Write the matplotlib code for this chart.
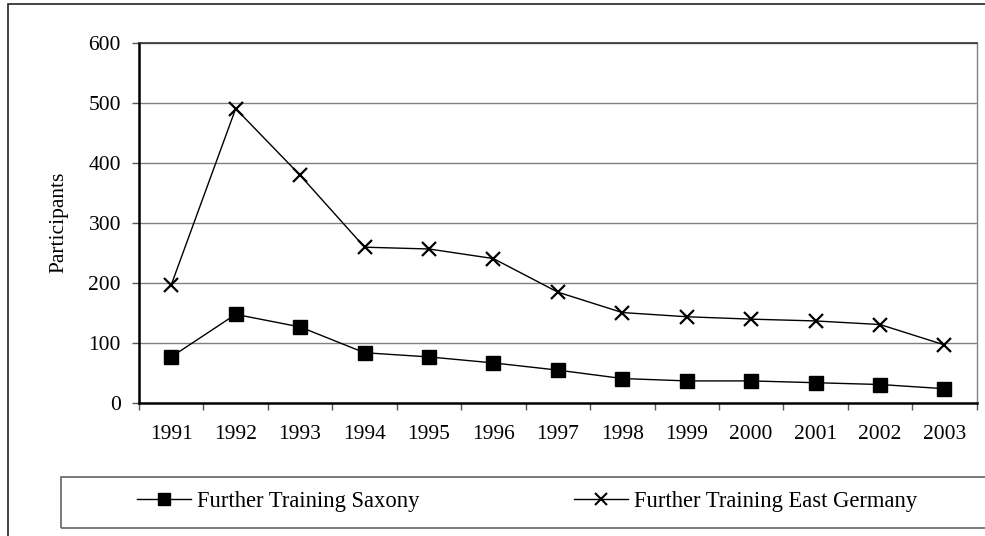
import matplotlib
matplotlib.use("Agg")
import matplotlib.pyplot as plt
from matplotlib.patches import Rectangle
from matplotlib.lines import Line2D

years = ["1991", "1992", "1993", "1994", "1995", "1996", "1997",
         "1998", "1999", "2000", "2001", "2002", "2003"]
saxony = [76, 147, 126, 83, 76, 66, 54, 40, 36, 36, 33, 30, 23]
east_germany = [196, 490, 379, 259, 256, 240, 184, 150, 143, 139, 136, 130, 96]
y_ticks = [0, 100, 200, 300, 400, 500, 600]

plt.rcParams['font.family'] = ['Liberation Serif', 'DejaVu Serif']
FS = 15.5
LFS = 16.3

W, H = 985, 536
fig = plt.figure(figsize=(W / 100, H / 100), dpi=100)

# outer chart frame (extends beyond right/bottom edges)
fig.patches.append(Rectangle((8 / W, -0.2), 1.2, 1 - 4 / H + 0.2,
                             transform=fig.transFigure, fill=False,
                             edgecolor='#222222', linewidth=1.2))

left, right = 139 / W, 976.7 / W
bottom, top = 1 - 402.5 / H, 1 - 42.7 / H
ax = fig.add_axes([left, bottom, right - left, top - bottom])

x = list(range(len(years)))
ax.plot(x, saxony, color='black', linewidth=1.0, marker='s',
        markersize=9.5, markerfacecolor='black', markeredgecolor='black',
        label='Further Training Saxony', zorder=3)
ax.plot(x, east_germany, color='black', linewidth=1.0, marker='x',
        markersize=10, markeredgewidth=1.6, markeredgecolor='black',
        label='Further Training East Germany', zorder=3)

ax.set_xlim(-0.5, len(years) - 0.5)
ax.set_ylim(0, 600)
ax.set_yticks(y_ticks)
ax.set_yticklabels([str(v) for v in y_ticks], fontsize=FS)
for v in y_ticks[1:]:
    ax.axhline(v, color='#7f7f7f', linewidth=1.0, zorder=1)

ax.set_xticks([i - 0.5 for i in range(len(years) + 1)])
ax.set_xticklabels([])
ax.set_xticks(x, minor=True)
ax.set_xticklabels(years, minor=True, fontsize=FS)
ax.tick_params(axis='x', which='major', length=5, width=1, color='#555555', direction='out')
ax.tick_params(axis='x', which='minor', length=0, pad=16)
ax.tick_params(axis='y', length=5, width=1, color='#555555', direction='out', pad=8)

ax.spines['left'].set_linewidth(1.8)
ax.spines['bottom'].set_linewidth(1.8)
ax.spines['left'].set_color('black')
ax.spines['bottom'].set_color('black')
ax.spines['top'].set_color('#333333')
ax.spines['top'].set_linewidth(1.2)
ax.spines['right'].set_color('#808080')
ax.spines['right'].set_linewidth(1.0)

fig.text(59 / W, (bottom + top) / 2, 'Participants', rotation=90,
         fontsize=FS, ha='center', va='center')

# legend box
fig.patches.append(Rectangle((60.7 / W, 1 - 528.3 / H), 1.2, (528.3 - 476.7) / H,
                             transform=fig.transFigure, fill=False,
                             edgecolor='#6f6f6f', linewidth=1.3))

h1 = Line2D([], [], color='black', linewidth=1.0, marker='s', markersize=9,
            markerfacecolor='black')
h2 = Line2D([], [], color='black', linewidth=1.0, marker='x', markersize=9,
            markeredgewidth=1.5)
fig.legend([h1, h2], ['Further Training Saxony', 'Further Training East Germany'],
           ncol=2, frameon=False, fontsize=LFS, loc='center left',
           bbox_to_anchor=(136.7 / W, 1 - 501 / H),
           borderaxespad=0, borderpad=0,
           handlelength=2.4, handletextpad=0.28, columnspacing=6.8)

fig.savefig('out.png', dpi=100)
